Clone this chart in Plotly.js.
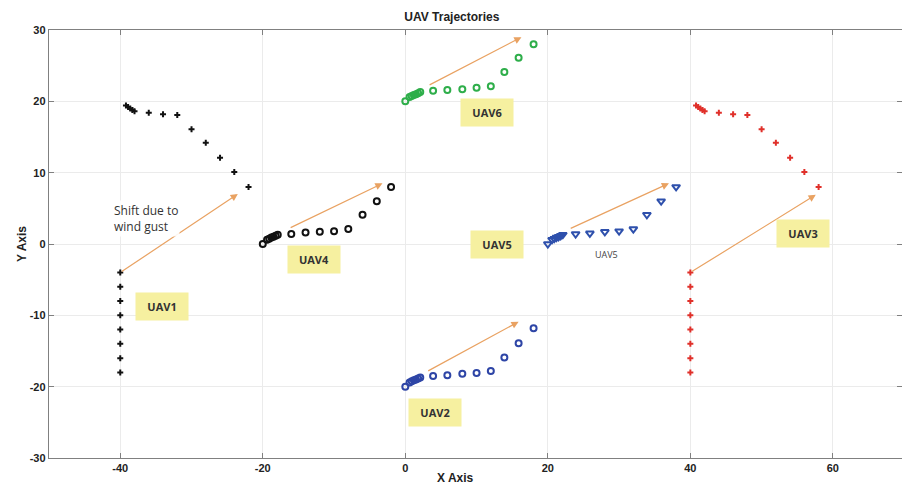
<!DOCTYPE html>
<html>
<head>
<meta charset="utf-8">
<script src="https://cdn.plot.ly/plotly-3.0.1.min.js"></script>
<style>html,body{margin:0;padding:0;background:#fff;}#chart{width:902px;height:487px;}</style>
</head>
<body>
<div id="chart"></div>
<script>
// ---- data ----
var uav1X = [-40,-40,-40,-40,-40,-40,-40,-40,-22,-24,-26,-28,-30,-32,-34,-36,-38,-38.3,-38.6,-38.9,-39.2];
var uav1Y = [-18,-16,-14,-12,-10,-8,-6,-4,8,10.1,12.1,14.2,16.1,18.1,18.2,18.4,18.6,18.8,19.0,19.2,19.4];

var uav3X = [40,40,40,40,40,40,40,40,58,56,54,52,50,48,46,44,42,41.7,41.4,41.1,40.8];
var uav3Y = [-18,-16,-14,-12,-10,-8,-6,-4,8,10.1,12.1,14.2,16.1,18.1,18.2,18.4,18.6,18.8,19.0,19.2,19.4];

var uav4X = [-20,-19.4,-19.1,-18.8,-18.5,-18.2,-17.9,-16,-14,-12,-10,-8,-6,-4,-2];
var uav4Y = [0,0.6,0.75,0.9,1.0,1.15,1.3,1.4,1.6,1.7,1.8,2.1,4.1,6,8];

var uav6X = [0,0.6,0.9,1.2,1.5,1.8,2.1,3.9,5.9,8,10,12,13.9,15.9,18];
var uav6Y = [20,20.6,20.75,20.9,21.0,21.15,21.3,21.5,21.6,21.7,21.9,22.1,24.1,26.1,28];

var uav2X = [0,0.6,0.9,1.2,1.5,1.8,2.1,3.9,5.9,8,10,12,13.9,15.9,18];
var uav2Y = [-20,-19.4,-19.25,-19.1,-19.0,-18.85,-18.7,-18.5,-18.4,-18.2,-18.1,-17.8,-15.9,-13.9,-11.8];

var uav5X = [20,20.6,20.9,21.2,21.5,21.8,22.1,23.9,25.9,28,30,32,33.9,35.9,38];
var uav5Y = [0,0.6,0.75,0.9,1.0,1.15,1.3,1.4,1.5,1.7,1.8,2.1,4.1,6,8];

// wind-gust shift arrows: tail (from) -> head (to)
var arrowFromX = [-40, 40, -16.3, 23, 3.2, 3];
var arrowFromY = [-4, -4, 2.2, 2.1, 22.2, -17.9];
var arrowToX   = [-23.5, 57.6, -3.2, 37, 16.3, 15.9];
var arrowToY   = [7, 6.9, 8.5, 8.5, 29, -10.9];

// label boxes
var labelText = ['UAV1','UAV2','UAV3','UAV4','UAV5','UAV6'];
var labelX = [-34.2, 4.1, 55.8, -12.8, 12.8, 11.4];
var labelY = [-8.8, -23.6, 1.5, -2.2, 0, 18.5];

var xTicks = [-40,-20,0,20,40,60];
var yTicks = [-30,-20,-10,0,10,20,30];

// ---- traces ----
function tr(x, y, sym, color, size, lw) {
  return {x: x, y: y, type: 'scatter', mode: 'markers', hoverinfo: 'skip',
    marker: {symbol: sym, size: size, color: color, line: {color: color, width: lw}}};
}
var traces = [
  tr(uav1X, uav1Y, 'cross', '#111111', 5, 0),
  tr(uav3X, uav3Y, 'cross', '#e0302a', 5, 0),
  tr(uav4X, uav4Y, 'circle-open', '#111111', 6, 2),
  tr(uav6X, uav6Y, 'circle-open', '#2eae4a', 6, 2),
  tr(uav2X, uav2Y, 'circle-open', '#2e45a6', 6, 2),
  tr(uav5X, uav5Y, 'triangle-down-open', '#2e50ac', 7, 2)
];

var annotations = [];
for (var i = 0; i < arrowToX.length; i++) {
  annotations.push({x: arrowToX[i], y: arrowToY[i], ax: arrowFromX[i], ay: arrowFromY[i],
    xref: 'x', yref: 'y', axref: 'x', ayref: 'y', text: '', showarrow: true,
    arrowhead: 2, arrowsize: 1.2, arrowwidth: 1.2, arrowcolor: '#e9a262', standoff: 0});
}
for (var j = 0; j < labelText.length; j++) {
  annotations.push({x: labelX[j], y: labelY[j], xref: 'x', yref: 'y', text: '<b>' + labelText[j] + '</b>',
    showarrow: false, bgcolor: '#f6f0a0', width: 50, height: 25,
    font: {family: 'Open Sans, Liberation Sans, sans-serif', size: 11, color: '#333333'}});
}
annotations.push({x: 28.2, y: -1.5, xref: 'x', yref: 'y', text: 'UAV5', showarrow: false,
  font: {family: 'Open Sans, sans-serif', size: 9, color: '#444444'}});
annotations.push({x: -41.1, y: 3.6, xref: 'x', yref: 'y', xanchor: 'left', align: 'left',
  text: 'Shift due to<br>wind gust', showarrow: false, bgcolor: 'rgba(255,255,255,0.9)',
  font: {family: 'Open Sans, sans-serif', size: 12, color: '#333333'}});
annotations.push({x: 0.476, y: 0, xref: 'paper', yref: 'paper', yanchor: 'bottom', xanchor: 'center',
  yshift: -28, borderpad: 0, text: '<b>X Axis</b>', showarrow: false,
  font: {family: 'Liberation Sans, Arial, sans-serif', size: 12, color: '#222222'}});
annotations.push({x: -27/853, y: 0.5, xref: 'paper', yref: 'paper', textangle: -90,
  xanchor: 'center', yanchor: 'middle',
  text: '<b>Y Axis</b>', showarrow: false,
  font: {family: 'Liberation Sans, Arial, sans-serif', size: 12, color: '#222222'}});

var axisCommon = {
  showgrid: true, gridcolor: '#ebebeb', gridwidth: 1, zeroline: false,
  showline: true, linecolor: '#808080', linewidth: 1.2, mirror: 'ticks',
  ticks: 'inside', ticklen: 5, tickcolor: '#808080', tickwidth: 1,
  tickfont: {family: 'Liberation Sans, Arial, sans-serif', size: 11, color: '#222222', weight: 'bold'}
};

var layout = {
  width: 902, height: 487,
  margin: {l: 49, r: 0, t: 30, b: 29},
  paper_bgcolor: '#ffffff', plot_bgcolor: '#ffffff',
  showlegend: false,
  title: {text: '<b>UAV Trajectories</b>', xref: 'container', x: 0.501, xanchor: 'center',
    yref: 'container', y: 1 - 17/487, yanchor: 'middle',
    font: {family: 'Liberation Sans, Arial, sans-serif', size: 12, color: '#222222'}},
  xaxis: Object.assign({}, axisCommon, {range: [-50, 69.7], tickvals: xTicks, ticktext: xTicks.map(String)}),
  yaxis: Object.assign({}, axisCommon, {range: [-30, 30], tickvals: yTicks, ticktext: yTicks.map(String)}),
  annotations: annotations
};

Plotly.newPlot('chart', traces, layout, {staticPlot: true, displayModeBar: false});
</script>
</body>
</html>
